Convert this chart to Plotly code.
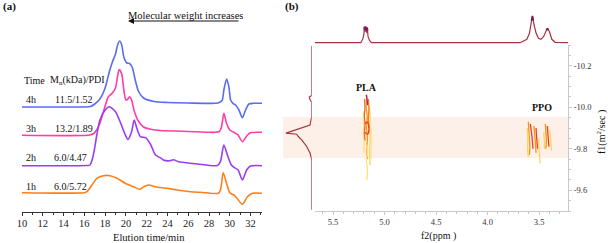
import plotly.graph_objects as go

W, H = 608, 243
def px(x): return x / W
def py(y): return 1 - y / H

# ---------------- Panel (a) data: elution time (min) and detector signal (arb.)
t_4h = [10.0, 13.0, 16.0, 16.6, 17.0, 17.5, 18.0, 18.4, 18.7, 19.0, 19.2, 19.4, 19.6, 19.8, 20.1, 20.35, 20.6, 20.9, 21.2, 21.7, 22.7, 24.0, 26.0, 28.6, 29.0, 29.28, 29.43, 29.69, 29.91, 30.08, 30.3, 30.56, 30.88, 31.21, 31.52, 31.84, 32.3, 33.1]
s_4h = [105, 105, 105, 105.5, 108, 113, 124, 140, 150, 158, 167, 171, 167, 155, 149, 148.5, 145, 132, 121, 114, 110.5, 109.5, 109, 108.7, 109.5, 112, 122, 133, 125.3, 112, 108.7, 107, 102, 94.3, 102, 108, 108.7, 108.7]

t_3h = [10, 16.5, 16.9, 17.3, 17.6, 18.0, 18.3, 18.7, 19.0, 19.2, 19.35, 19.6, 19.8, 20.0, 20.15, 20.36, 20.55, 20.8, 21.2, 21.7, 22.4, 23.3, 26, 28.6, 29.0, 29.2, 29.43, 29.69, 30.0, 30.4, 30.8, 31.21, 31.7, 32.0, 33.1]
s_3h = [76.7, 77, 78.5, 84, 92, 106, 115, 119, 124, 136, 142.5, 138, 122, 112, 112.5, 115.3, 112, 101, 91, 85, 82.7, 81.5, 80.5, 79.7, 80.5, 85, 98.7, 88.7, 82, 79.7, 77, 70.3, 77, 79.3, 79.7]

t_2h = [10, 16.2, 16.55, 16.87, 17.2, 17.5, 18.0, 18.4, 19.0, 19.5, 19.95, 20.2, 20.55, 20.8, 21.05, 21.4, 21.9, 22.4, 22.85, 23.4, 23.6, 24.2, 24.6, 25.0, 26.9, 28.8, 29.1, 29.43, 29.77, 30.15, 30.4, 30.8, 31.21, 31.62, 32.0, 33.1]
s_2h = [46.3, 46.5, 47, 57, 77, 92, 102, 105.3, 100.3, 88.7, 77, 72.5, 80.3, 92, 83.7, 75.3, 74.3, 67, 57, 53.7, 52, 51.2, 52.2, 50.5, 48, 46.5, 50.3, 67, 57, 47, 44.7, 42, 32, 42, 46, 46.3]

t_1h = [10, 16.0, 16.25, 16.73, 17.21, 17.85, 18.49, 19.14, 19.94, 20.74, 21.32, 21.71, 22.19, 22.84, 23.97, 24.93, 26.22, 27.18, 28.9, 29.1, 29.37, 29.69, 30.0, 30.4, 30.7, 31.21, 31.7, 32.2, 33.1]
s_1h = [19.3, 19.3, 20.3, 27, 33.7, 36.3, 36.3, 33.7, 28.7, 25.3, 22.7, 25.3, 27, 25.3, 23.7, 22, 20.3, 19.7, 18.7, 22, 39.3, 28.7, 19.3, 17, 13.7, 7.7, 15.3, 18.7, 18.7]

labels_time = ["4h", "3h", "2h", "1h"]
labels_mn = ["11.5/1.52", "13.2/1.89", "6.0/4.47", "6.0/5.72"]

# ---------------- Panel (b) data
# top 1H projection (ppm, intensity)
ppm_top = [5.675, 5.23, 5.221, 5.21, 5.2, 5.195, 5.19, 5.182, 5.175, 5.168, 5.16, 5.145, 5.125, 3.70, 3.684, 3.619, 3.594, 3.578, 3.565, 3.549, 3.529, 3.507, 3.483, 3.458, 3.435, 3.42, 3.40, 3.377, 3.345, 3.22]
int_top = [0, 0, 2, 4, 9, 16, 11, 16, 10, 15, 6, 2, 0, 0, 0, 3.4, 9.4, 19.4, 26.7, 17.7, 9.4, 4.4, 3.4, 6, 12, 14.4, 11, 3.4, 0.4, 0]
# highlighted tops of the projection peaks (ppm, intensity)
ppm_top_hi = [[5.198, 5.195, 5.191], [5.185, 5.182, 5.178], [5.171, 5.168, 5.164], [3.575, 3.565, 3.556], [3.43, 3.42, 3.41]]
int_top_hi = [[13, 16, 13], [13, 16, 13], [12, 15, 12], [22, 26.7, 22], [12.5, 14.4, 12.5]]
# left diffusion projection (f1, intensity)
f1_left = [-10.295, -10.057, -10.049, -10.037, -10.025, -9.954, -9.914, -9.899, -9.882, -9.875, -9.870, -9.859, -9.843, -9.811, -9.780, -9.748, -9.506]
int_left = [0, 0, 2.4, 1.7, 0, 0, 1.7, 11.7, 21.7, 25.7, 15, 13.4, 10, 5, 1.7, 0, 0]

# contour streaks (ppm list, f1 list, colour)
contours = [
    ([5.205, 5.2, 5.204, 5.198, 5.202], [-9.98, -9.93, -9.88, -9.83, -9.78], "#ffe07a"),
    ([5.195, 5.19, 5.196, 5.19, 5.195, 5.19], [-10.04, -10.0, -9.96, -9.92, -9.88, -9.84], "#f06a1f"),
    ([5.172, 5.178, 5.168, 5.176, 5.166, 5.174, 5.166], [-10.06, -10.0, -9.95, -9.9, -9.85, -9.8, -9.75], "#f7931e"),
    ([5.148, 5.14, 5.146, 5.138, 5.145, 5.14], [-10.0, -9.95, -9.9, -9.85, -9.78, -9.72], "#ffd35a"),
    ([5.157, 5.152, 5.158, 5.15], [-10.04, -9.99, -9.94, -9.9], "#f47a28"),
    ([5.175, 5.168, 5.176, 5.166, 5.172], [-9.82, -9.78, -9.74, -9.7, -9.65], "#ffe07a"),
    ([5.13, 5.126, 5.13, 5.127], [-9.9, -9.85, -9.8, -9.75], "#ffe59a"),
    ([5.19, 5.17, 5.152, 5.165, 5.19], [-9.92, -9.93, -9.9, -9.87, -9.88], "#e8401e"),
    ([5.178, 5.17, 5.165], [-10.06, -10.04, -10.01], "#b0205a"),
    ([3.605, 3.60, 3.595, 3.59, 3.595], [-9.93, -9.89, -9.85, -9.81, -9.77], "#f7931e"),
    ([3.585, 3.575, 3.57, 3.565, 3.56], [-9.92, -9.88, -9.86, -9.83, -9.80], "#e8401e"),
    ([3.615, 3.61, 3.612, 3.605], [-9.9, -9.85, -9.8, -9.76], "#ffd35a"),
    ([3.55, 3.545, 3.54, 3.535, 3.53], [-9.91, -9.88, -9.85, -9.82, -9.78], "#f7931e"),
    ([3.53, 3.525, 3.52, 3.515], [-9.90, -9.86, -9.83, -9.80], "#e8401e"),
    ([3.505, 3.5, 3.495, 3.49], [-9.85, -9.80, -9.76, -9.73], "#ffd35a"),
    ([3.44, 3.435, 3.43, 3.435], [-9.92, -9.88, -9.84, -9.80], "#f7931e"),
    ([3.42, 3.415, 3.41, 3.405], [-9.91, -9.87, -9.84, -9.81], "#e8401e"),
    ([3.395, 3.39, 3.385, 3.38], [-9.89, -9.85, -9.82, -9.79], "#ffd35a"),
    ([3.455, 3.45, 3.448], [-9.88, -9.84, -9.80], "#ffd35a"),
]
f1_ticks = [-10.2, -10.0, -9.8, -9.6]
f1_ticktext = ["-10.2", "-10.0", "-9.8", "-9.6"]
f2_ticks = [5.5, 5.0, 4.5, 4.0, 3.5]
f2_ticktext = ["5.5", "5.0", "4.5", "4.0", "3.5"]
time_ticks = list(range(10, 33, 2))

FONT = "Liberation Serif"
fig = go.Figure()

series = [(t_4h, s_4h, "#5a6cf2"), (t_3h, s_3h, "#ff3ea5"), (t_2h, s_2h, "#9a3cf5"), (t_1h, s_1h, "#ff7f17")]
for t, s, c in series:
    fig.add_trace(go.Scatter(x=t, y=s, mode="lines", line=dict(color=c, width=1.6, shape="spline", smoothing=0.7),
                             xaxis="x", yaxis="y", showlegend=False, hoverinfo="skip"))

fig.add_trace(go.Scatter(x=ppm_top, y=int_top, mode="lines", line=dict(color="#a3343f", width=1.2),
                         xaxis="x3", yaxis="y3", showlegend=False))
for xs, ys in zip(ppm_top_hi, int_top_hi):
    fig.add_trace(go.Scatter(x=xs, y=ys, mode="lines", line=dict(color="#7d1a66", width=1.6),
                             xaxis="x3", yaxis="y3", showlegend=False))
fig.add_trace(go.Scatter(x=int_left, y=f1_left, mode="lines", line=dict(color="#a3343f", width=1.2),
                         xaxis="x4", yaxis="y2", showlegend=False))
for xs, ys, c in contours:
    fig.add_trace(go.Scatter(x=xs, y=ys, mode="lines", line=dict(color=c, width=1.3, shape="spline"),
                             xaxis="x2", yaxis="y2", showlegend=False))

tickfont_a = dict(family=FONT, size=10.5, color="#222")
tickfont_b = dict(family=FONT, size=8.5, color="#333")
fig.update_layout(
    template="none",
    width=W, height=H, margin=dict(l=0, r=0, t=0, b=0, autoexpand=False),
    paper_bgcolor="white", plot_bgcolor="rgba(0,0,0,0)",
    xaxis=dict(domain=[px(22), px(262)], range=[10, 33.1], anchor="y", showline=True, linecolor="#333", linewidth=1,
               ticks="outside", ticklen=3, tickcolor="#333", tickvals=time_ticks, showgrid=False,
               zeroline=False, tickfont=tickfont_a, automargin=False, ticklabelstandoff=-2,
               minor=dict(ticks="outside", ticklen=2, dtick=1, tickcolor="#333", showgrid=False)),
    yaxis=dict(domain=[py(212), py(20)], range=[0, 192], visible=False, automargin=False),
    xaxis2=dict(domain=[px(315), px(568)], range=[5.675, 3.22], anchor="y2", showline=True, linecolor="#c8c8c8",
                ticks="outside", ticklen=3, tickcolor="#c8c8c8", tickvals=f2_ticks, ticktext=f2_ticktext,
                showgrid=False, zeroline=False, tickfont=tickfont_b, automargin=False,
                minor=dict(ticks="outside", ticklen=2, dtick=0.1, tickcolor="#c8c8c8", showgrid=False)),
    yaxis2=dict(domain=[py(211), py(45)], range=[-9.5, -10.3], anchor="x2", side="right", showline=True,
                linecolor="#c8c8c8", ticks="outside", ticklen=3, tickcolor="#c8c8c8", tickvals=f1_ticks,
                ticktext=f1_ticktext, showgrid=False, zeroline=False, tickfont=tickfont_b, automargin=False,
                minor=dict(ticks="outside", ticklen=2, dtick=0.05, tickcolor="#c8c8c8", showgrid=False)),
    xaxis3=dict(domain=[px(315), px(568)], range=[5.675, 3.22], anchor="y3", visible=False, automargin=False),
    yaxis3=dict(domain=[py(44), py(14)], range=[-1.3, 28.7], visible=False, automargin=False),
    xaxis4=dict(domain=[px(270), px(311.7)], range=[41.7, 0], anchor="y2", visible=False, automargin=False),
)

fig.add_shape(type="rect", xref="paper", yref="paper", x0=px(283), x1=px(568), y0=py(158), y1=py(117),
              fillcolor="#fdf0e8", line=dict(width=0), layer="below")

ann = []
def text(x, y, s, size=10, bold=False, xanchor="center", angle=0, color="#111"):
    if bold:
        s = "<b>" + s + "</b>"
    ann.append(dict(x=px(x), y=py(y), xref="paper", yref="paper", text=s, showarrow=False, xanchor=xanchor,
                    yanchor="middle", textangle=angle, font=dict(family=FONT, size=size, color=color)))

text(9, 7, "(a)", 11, True)
text(292, 7, "(b)", 11, True)
text(185, 15, "Molecular weight increases", 10.5)
text(22, 80, "Time", 10, xanchor="left")
text(48, 80, "M<sub>n</sub>(kDa)/PDI", 10, xanchor="left")
ys_lab = [99, 128, 157, 186]
xs_mn = [53, 53, 52, 52]
for lt, lm, yy, xm in zip(labels_time, labels_mn, ys_lab, xs_mn):
    text(24, yy, lt, 10, xanchor="left")
    text(xm, yy, lm, 10, xanchor="left")
text(149, 237, "Elution time/min", 10.5)
text(367, 87, "PLA", 10, True)
text(542, 107, "PPO", 10, True)
text(438, 236, "f2(ppm )", 10)
text(601, 132, "f1(m<sup>2</sup>/sec )", 10, angle=-90)

ann.append(dict(x=px(128), y=py(21), ax=112, ay=0, xref="paper", yref="paper", axref="pixel", ayref="pixel",
                showarrow=True, arrowhead=2, arrowsize=1, arrowwidth=1.2, arrowcolor="#111", text=""))
fig.update_layout(annotations=ann)

fig.write_html("out.html", config={"displayModeBar": False, "staticPlot": True},
               post_script="document.body.style.margin='0';document.body.style.overflow='hidden';")
